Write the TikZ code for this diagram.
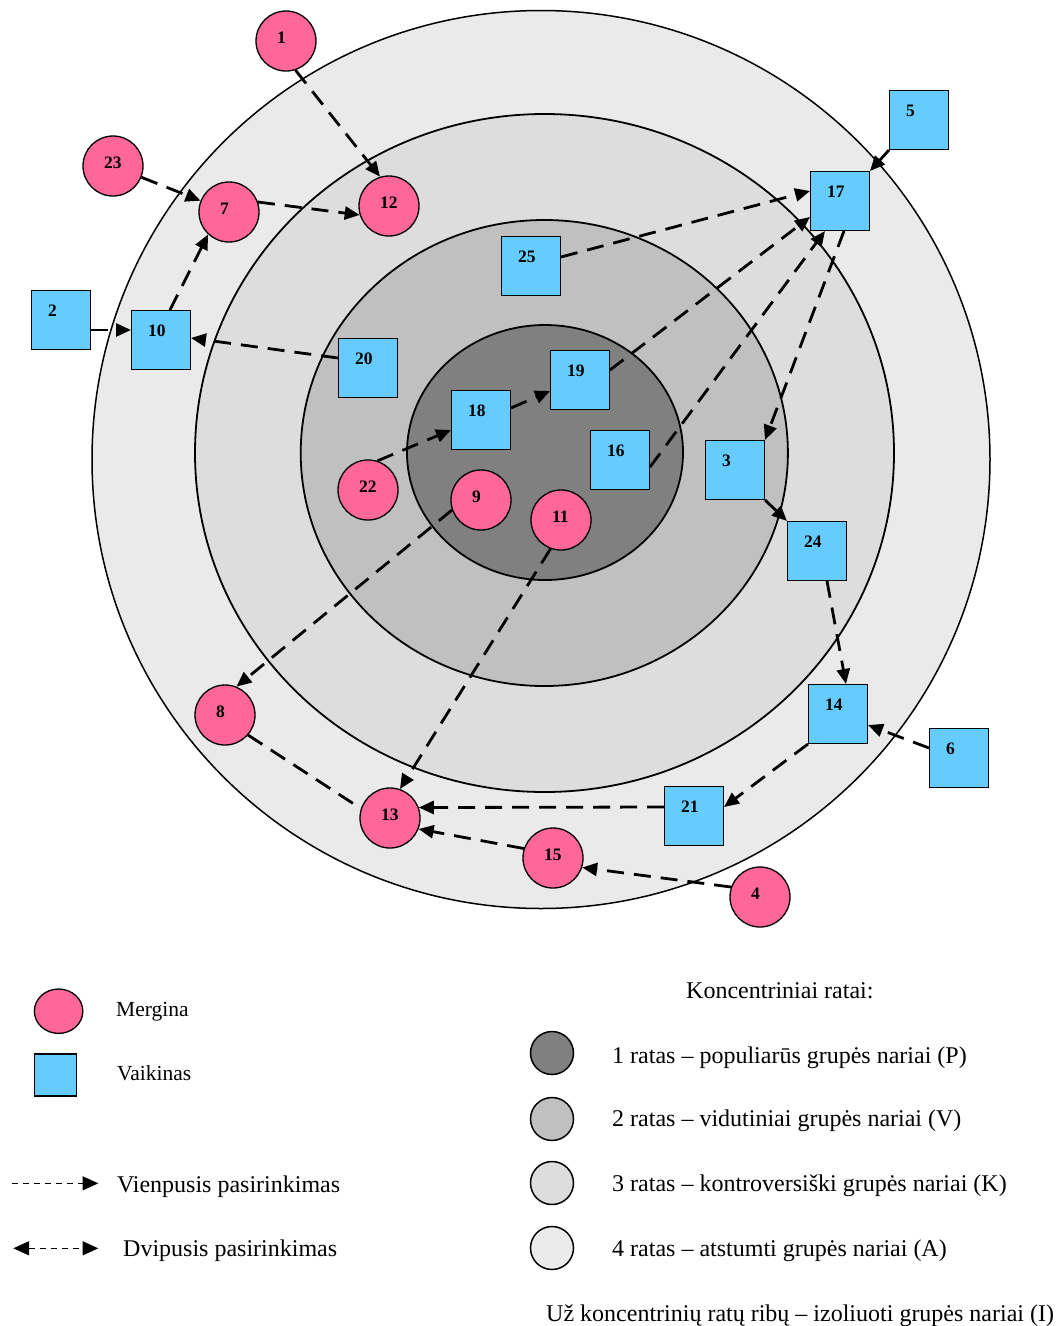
\documentclass[tikz,border=0pt]{standalone}
\usepackage{fontspec}
\setmainfont{Liberation Serif}
\usetikzlibrary{arrows.meta,shapes.geometric}
\definecolor{girlpink}{HTML}{FF6699}
\definecolor{boyblue}{HTML}{66CCFF}
\definecolor{ringA}{HTML}{EAEAEA}
\definecolor{ringK}{HTML}{DDDDDD}
\definecolor{ringV}{HTML}{C0C0C0}
\definecolor{ringP}{HTML}{808080}
\newcommand\gnum[1]{\makebox[18pt][l]{#1}}
\newcommand\bnum[1]{\makebox[26pt][l]{#1}}
\begin{document}
\begin{tikzpicture}[x=1pt,y=-1pt,
  numfont/.style={font=\fontsize{17.5}{20}\selectfont\bfseries},
  girl/.style={circle, draw, line width=1.3pt, fill=girlpink, minimum size=60pt, inner sep=0pt, numfont, text height=5pt, text depth=0pt},
  boy/.style={rectangle, draw, line width=1.3pt, fill=boyblue, minimum size=58.7pt, inner sep=0pt, numfont, text height=0pt, text depth=6.6pt},
  ringline/.style={draw, line width=1.8pt},
  choice/.style={line width=2.8pt, dash pattern=on 17pt off 10pt, -{Triangle[length=15pt,width=13pt]}},
  plainchoice/.style={line width=2.8pt, dash pattern=on 17pt off 10pt},
  legtext/.style={anchor=base west, inner sep=0pt, font=\fontsize{24}{28}\selectfont},
  legsmall/.style={anchor=base west, inner sep=0pt, font=\fontsize{21.5}{25}\selectfont},
  legline/.style={line width=1.2pt, dash pattern=on 6.7pt off 4.3pt},
  legring/.style={circle, draw, line width=1.5pt, minimum size=43pt, inner sep=0pt}
]
\useasboundingbox (0,0) rectangle (1056,1326);
% concentric rings
\path[ringline, line width=1.5pt, fill=ringA] (541,459.5) ellipse [x radius=449pt, y radius=449pt];
\path[ringline, fill=ringK] (544.5,453) ellipse [x radius=349.5pt, y radius=339pt];
\path[ringline, fill=ringV] (544.3,453) ellipse [x radius=243.6pt, y radius=233pt];
\path[ringline, fill=ringP] (545,452.5) ellipse [x radius=138pt, y radius=127.5pt];

% girls
\node[girl] (n1)  at (286,41)  {\gnum{1}};
\node[girl] (n23) at (113,166) {\gnum{23}};
\node[girl] (n7)  at (229,212) {\gnum{7}};
\node[girl] (n12) at (389,206) {\gnum{12}};
\node[girl] (n22) at (368,490) {\gnum{22}};
\node[girl] (n9)  at (481,500) {\gnum{9}};
\node[girl] (n11) at (561,520) {\gnum{11}};
\node[girl] (n8)  at (225,715) {\gnum{8}};
\node[girl] (n13) at (390,818) {\gnum{13}};
\node[girl] (n15) at (553,858) {\gnum{15}};
\node[girl] (n4)  at (760,897) {\gnum{4}};

% boys
\node[boy] (n2)  at (61,320)  {\bnum{2}};
\node[boy] (n10) at (161,340) {\bnum{10}};
\node[boy] (n20) at (368,368) {\bnum{20}};
\node[boy] (n25) at (531,266) {\bnum{25}};
\node[boy] (n17) at (840,201) {\bnum{17}};
\node[boy] (n5)  at (919,120) {\bnum{5}};
\node[boy] (n19) at (580,380) {\bnum{19}};
\node[boy] (n18) at (481,420) {\bnum{18}};
\node[boy] (n16) at (620,460) {\bnum{16}};
\node[boy] (n3)  at (735,470) {\bnum{3}};
\node[boy] (n24) at (817,551) {\bnum{24}};
\node[boy] (n14) at (838,714) {\bnum{14}};
\node[boy] (n6)  at (959,758) {\bnum{6}};
\node[boy] (n21) at (694,816) {\bnum{21}};

% choices
\draw[choice] (n1.-72) -- (n12.107);
\draw[choice] (n23) -- (n7);
\draw[choice] (n7.19) -- (n12.197);
\draw[choice] ([xshift=9pt]n10.north) -- (n7.227);
\draw[choice] ([yshift=-10pt]n2.east) -- ([yshift=10pt]n10.west);
\draw[choice] ([yshift=10pt]n20.west) -- ([yshift=2pt]n10.east);
\draw[choice] ([yshift=9pt]n25.east) -- ([yshift=10pt]n17.west);
\draw[choice] ([yshift=10pt]n19.east) -- ([yshift=-16pt]n17.west);
\draw[choice] ([yshift=-7pt]n16.east) -- ([xshift=-15pt]n17.south);
\draw[choice] ([xshift=4pt]n17.south) -- (n3.north east);
\draw[choice] (n5.south west) -- (n17.north east);
\draw[choice] (n22.72) -- ([yshift=-10pt]n18.west);
\draw[choice] ([yshift=12pt]n18.east) -- ([yshift=-11pt]n19.west);
\draw[choice] (n9.199) -- (n8.68);
\draw[choice] (n11.250) -- (n13.71);
\draw[plainchoice] (n8.-41) -- (n13.162);
\draw[choice] ([yshift=9pt]n21.west) -- (n13.20);
\draw[choice] (n15.162) -- (n13.-21);
\draw[choice] (n4.161) -- (n15.-18);
\draw[choice] (n3.south east) -- (n24.north west);
\draw[choice] ([xshift=10pt]n24.south) -- ([xshift=8pt]n14.north);
\draw[choice] (n14.south west) -- ([yshift=9pt]n21.east);
\draw[choice] ([yshift=10pt]n6.west) -- ([yshift=-11pt]n14.east);

% legend left
\node[ellipse, draw, line width=1.3pt, fill=girlpink, minimum width=48.5pt, minimum height=44.4pt, inner sep=0pt] (lgirl) at (58.6,1011.2) {};
\node[rectangle, draw, line width=1.3pt, fill=boyblue, minimum size=42.1pt, inner sep=0pt] (lboy) at (55.4,1075) {};
\node[legsmall] (tgirl) at (116,1016.7) {Mergina};
\node[legsmall] (tboy) at (117,1080.7) {Vaikinas};
\coordinate (lv1) at (11.7,1183.3);
\coordinate (lv2) at (98.3,1183.3);
\draw[legline, -{Triangle[length=15.7pt,width=14pt]}] (lv1) -- (lv2);
\coordinate (ld1) at (13.3,1248.3);
\coordinate (ld2) at (98.3,1248.3);
\draw[legline, {Triangle[length=15.7pt,width=14pt]}-{Triangle[length=15.7pt,width=14pt]}] (ld1) -- (ld2);
\node[legtext] (tone) at (116.8,1192.3) {Vienpusis pasirinkimas};
\node[legtext] (ttwo) at (123,1256.7) {Dvipusis pasirinkimas};

% legend right
\node[legtext] (tk) at (686,998) {Koncentriniai ratai:};
\node[legring, fill=ringP] (c1) at (552,1053) {};
\node[legring, fill=ringV] (c2) at (552,1119) {};
\node[legring, fill=ringK] (c3) at (552,1183) {};
\node[legring, fill=ringA] (c4) at (552,1248) {};
\node[legtext] (t1) at (612,1063) {1 ratas – populiarūs grupės nariai (P)};
\node[legtext] (t2) at (612,1126.5) {2 ratas – vidutiniai grupės nariai (V)};
\node[legtext] (t3) at (612,1191.5) {3 ratas – kontroversiški grupės nariai (K)};
\node[legtext] (t4) at (612,1256.5) {4 ratas – atstumti grupės nariai (A)};
\node[legtext] (t5) at (546,1321.7) {Už koncentrinių ratų ribų – izoliuoti grupės nariai (I)};
\end{tikzpicture}
\end{document}
